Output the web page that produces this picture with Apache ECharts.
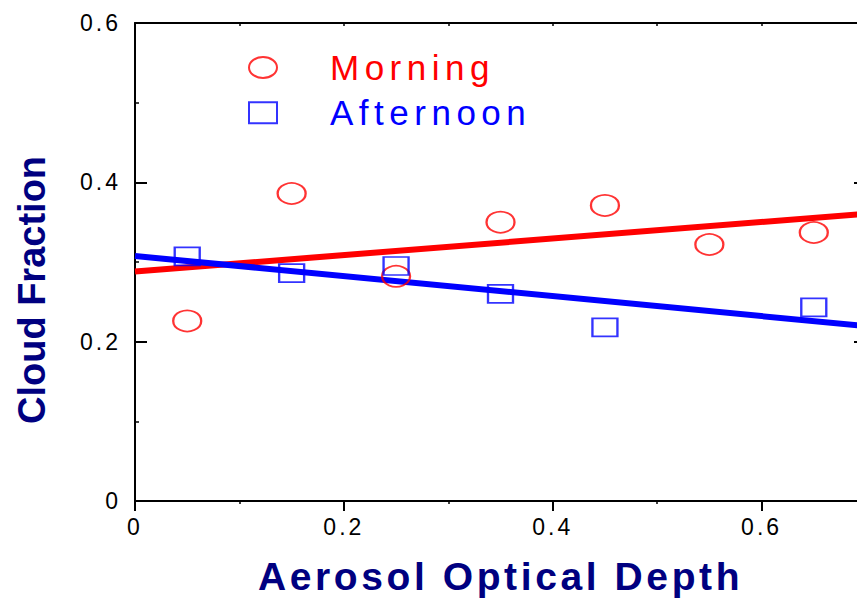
<!DOCTYPE html>
<html>
<head>
<meta charset="utf-8">
<script src="https://cdn.jsdelivr.net/npm/echarts@6/dist/echarts.min.js"></script>
<style>
html,body{margin:0;padding:0;background:#fff;}
#c{width:857px;height:598px;}
</style>
</head>
<body>
<div id="c"></div>
<script>
// ---- data ----
const morningX = [0.05, 0.15, 0.25, 0.35, 0.45, 0.55, 0.65];
const morningY = [0.226, 0.386, 0.282, 0.350, 0.371, 0.322, 0.337];
const afternoonX = [0.05, 0.15, 0.25, 0.35, 0.45, 0.65];
const afternoonY = [0.307, 0.286, 0.295, 0.260, 0.218, 0.243];
// fitted line endpoints
const fitX = [0, 0.7];
const morningFitY = [0.288, 0.3605];
const afternoonFitY = [0.3075, 0.2195];
const seriesNames = ['Morning', 'Afternoon'];
const xTitle = 'Aerosol Optical Depth';
const yTitle = 'Cloud Fraction';

const FONT = '"Liberation Sans", Arial, sans-serif';
const pair = (xs, ys) => xs.map((x, i) => [x, ys[i]]);

const chart = echarts.init(document.getElementById('c'), null, {renderer: 'svg'});
chart.setOption({
  animation: false,
  backgroundColor: '#ffffff',
  grid: {left: 135, top: 23, right: -9, bottom: 97, outerBoundsMode: 'none', containLabel: false},
  legend: {
    orient: 'vertical',
    left: 243,
    top: 45,
    itemWidth: 28,
    itemHeight: 21,
    itemGap: 10.2,
    selectedMode: false,
    symbolKeepAspect: false,
    data: [
      {name: seriesNames[0], icon: 'path://M0,50 A50,50 0 1,1 100,50 A50,50 0 1,1 0,50 Z', textStyle: {color: '#ff0000'}},
      {name: seriesNames[1], icon: 'rect', textStyle: {color: '#0000ff'}}
    ],
    textStyle: {fontFamily: FONT, fontSize: 35, padding: [0, 0, 0, 48]}
  },
  xAxis: [
    {
      type: 'value', min: 0, max: 0.7, interval: 0.2, position: 'bottom',
      name: xTitle, nameLocation: 'middle', nameGap: 56,
      nameTextStyle: {fontFamily: FONT, fontSize: 39, fontWeight: 'bold', color: '#000080'},
      axisLine: {show: true, onZero: false, lineStyle: {color: '#000', width: 2}},
      axisTick: {show: true, inside: false, length: 10, lineStyle: {color: '#000', width: 2}},
      minorTick: {show: true, splitNumber: 2, length: 3, lineStyle: {color: '#000', width: 1.5}},
      axisLabel: {show: true, showMaxLabel: false, margin: 14, fontFamily: FONT, fontSize: 23, color: '#000'},
      splitLine: {show: false}
    },
    {
      type: 'value', min: 0, max: 0.7, interval: 0.1, position: 'top',
      axisLine: {show: true, onZero: false, lineStyle: {color: '#000', width: 2}},
      axisTick: {show: true, inside: true, length: 3, lineStyle: {color: '#000', width: 1.5}},
      axisLabel: {show: false},
      splitLine: {show: false}
    }
  ],
  yAxis: [
    {
      type: 'value', min: 0, max: 0.6, interval: 0.2, position: 'left',
      name: yTitle, nameLocation: 'middle', nameGap: 84,
      nameTextStyle: {fontFamily: FONT, fontSize: 38, fontWeight: 'bold', color: '#000080', padding: [0, 56, 0, 0]},
      axisLine: {show: true, onZero: false, lineStyle: {color: '#000', width: 2}},
      axisTick: {show: true, inside: true, length: 12, lineStyle: {color: '#000', width: 2}},
      minorTick: {show: true, splitNumber: 2, length: 4, lineStyle: {color: '#000', width: 1.5}},
      axisLabel: {show: true, margin: 14, fontFamily: FONT, fontSize: 23, color: '#000'},
      splitLine: {show: false}
    },
    {
      type: 'value', min: 0, max: 0.6, interval: 0.2, position: 'right',
      axisLine: {show: true, onZero: false, lineStyle: {color: '#000', width: 2}},
      axisTick: {show: true, inside: true, length: 12, lineStyle: {color: '#000', width: 2}},
      axisLabel: {show: false},
      splitLine: {show: false}
    }
  ],
  series: [
    {
      name: 'Morning fit', type: 'line', xAxisIndex: 0, yAxisIndex: 0,
      data: pair(fitX, morningFitY), showSymbol: false, silent: true,
      lineStyle: {color: '#ff0000', width: 6}, z: 2
    },
    {
      name: 'Afternoon fit', type: 'line', xAxisIndex: 0, yAxisIndex: 0,
      data: pair(fitX, afternoonFitY), showSymbol: false, silent: true,
      lineStyle: {color: '#0000ff', width: 6}, z: 3
    },
    {
      name: seriesNames[0], type: 'scatter', xAxisIndex: 0, yAxisIndex: 0,
      data: pair(morningX, morningY), symbol: 'circle', symbolSize: [28, 21],
      itemStyle: {color: 'rgba(0,0,0,0)', borderColor: '#ff0000', borderWidth: 2}, z: 4
    },
    {
      name: seriesNames[1], type: 'scatter', xAxisIndex: 0, yAxisIndex: 0,
      data: pair(afternoonX, afternoonY), symbol: 'rect', symbolSize: [25, 18],
      itemStyle: {color: 'rgba(0,0,0,0)', borderColor: '#0000ff', borderWidth: 2}, z: 5
    }
  ]
});

// letter spacing (tracking) as in the original figure
const spacing = {'Morning': 5.5, 'Afternoon': 5.5, 'Aerosol Optical Depth': 3.6,
  '0': 3, '0.2': 3, '0.4': 3, '0.6': 3};
function applySpacing() {
  document.querySelectorAll('#c svg text').forEach(t => {
    const s = spacing[t.textContent];
    if (s != null) t.setAttribute('letter-spacing', s);
  });
}
chart.on('finished', applySpacing);
setTimeout(applySpacing, 50);
setTimeout(applySpacing, 300);
</script>
</body>
</html>
